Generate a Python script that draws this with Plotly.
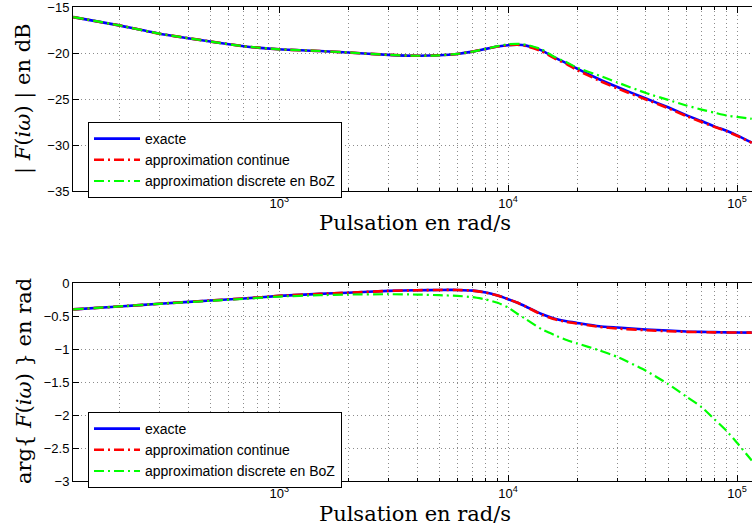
import plotly.graph_objects as go
import numpy as np

# ---------------- data ----------------
omega = [126, 200, 300, 500, 700, 1000, 1500, 2000, 3000, 4000, 5000, 6000, 7000, 8000, 9000,
         10000, 11000, 12000, 14000, 16000, 18000, 20000, 25000, 30000, 40000, 50000, 60000, 70000,
         80000, 90000, 100000, 116000]

mag_exacte = [-16.1, -17.0, -17.9, -18.75, -19.27, -19.6, -19.78, -19.95, -20.2, -20.3, -20.25,
              -20.1, -19.85, -19.55, -19.3, -19.15, -19.1, -19.2, -19.72, -20.5, -21.1, -21.7, -22.85,
              -23.7, -24.95, -25.9, -26.75, -27.4, -28.0, -28.45, -28.95, -29.75]
mag_continue = [-16.1, -17.0, -17.9, -18.75, -19.27, -19.6, -19.78, -19.95, -20.2, -20.3, -20.25,
                -20.1, -19.85, -19.55, -19.3, -19.15, -19.1, -19.25, -19.8, -20.6, -21.2, -21.85, -23.0,
                -23.85, -25.05, -26.0, -26.85, -27.5, -28.05, -28.5, -29.0, -29.75]
mag_boz = [-16.1, -17.0, -17.9, -18.75, -19.27, -19.6, -19.78, -19.95, -20.2, -20.3, -20.25,
           -20.1, -19.85, -19.55, -19.25, -19.05, -19.0, -19.1, -19.6, -20.45, -21.0, -21.6, -22.45,
           -23.2, -24.35, -25.1, -25.7, -26.15, -26.5, -26.8, -26.95, -27.15]

ph_exacte = [-0.40, -0.355, -0.315, -0.265, -0.235, -0.195, -0.165, -0.147, -0.12, -0.11, -0.105,
             -0.105, -0.115, -0.145, -0.19, -0.245, -0.30, -0.36, -0.47, -0.54, -0.58, -0.605, -0.655,
             -0.675, -0.705, -0.72, -0.735, -0.74, -0.745, -0.748, -0.75, -0.752]
ph_continue = [-0.40, -0.355, -0.315, -0.265, -0.235, -0.195, -0.165, -0.147, -0.12, -0.11, -0.105,
               -0.105, -0.115, -0.145, -0.19, -0.245, -0.30, -0.36, -0.48, -0.55, -0.59, -0.615, -0.665,
               -0.69, -0.715, -0.73, -0.74, -0.745, -0.748, -0.75, -0.75, -0.752]
ph_boz = [-0.40, -0.355, -0.315, -0.27, -0.24, -0.205, -0.185, -0.175, -0.17, -0.175, -0.185,
          -0.195, -0.215, -0.25, -0.30, -0.37, -0.47, -0.55, -0.70, -0.79, -0.865, -0.915, -1.02,
          -1.12, -1.33, -1.53, -1.72, -1.88, -2.07, -2.24, -2.42, -2.69]

series_names = ["exacte", "approximation continue", "approximation discrete en BoZ"]
mag_ticks = [-35, -30, -25, -20, -15]
ph_ticks = [-3, -2.5, -2, -1.5, -1, -0.5, 0]
x_major = [1e3, 1e4, 1e5]
x_major_text = ["10<sup>3</sup>", "10<sup>4</sup>", "10<sup>5</sup>"]

# ---------------- figure ----------------
W, H = 752, 529
ml, mr, mt, mb = 73, 0, 7, 48
ph_ = H - mt - mb
pw_ = W - ml - mr
top_dom = [(481 - 191) / ph_, 1.0]
bot_dom = [0.0, (481 - 283) / ph_]
xrange = [np.log10(2 * np.pi * 20), 5 + 15 / 229]

minor_vals = [m * 10 ** e for e in range(2, 6) for m in range(2, 10)]

colors = ["#0000ff", "#ff0000", "#00ff00"]
dashes = ["solid", "10px,4px,2px,4px", "10px,4px,2px,4px"]
widths = [2.6, 2.6, 2.2]

fig = go.Figure()
for i, mag in enumerate([mag_exacte, mag_continue, mag_boz]):
    fig.add_trace(go.Scatter(x=omega, y=mag, mode="lines", name=series_names[i],
                             line=dict(color=colors[i], width=widths[i], dash=dashes[i],
                                       shape="spline", smoothing=0.5),
                             xaxis="x", yaxis="y", legend="legend"))
for i, ph in enumerate([ph_exacte, ph_continue, ph_boz]):
    fig.add_trace(go.Scatter(x=omega, y=ph, mode="lines", name=series_names[i],
                             line=dict(color=colors[i], width=widths[i], dash=dashes[i],
                                       shape="spline", smoothing=0.5),
                             xaxis="x2", yaxis="y2", legend="legend2"))

tickfont = dict(family="Liberation Sans, Arial, sans-serif", size=13, color="black")
gridc = "#8c8c8c"


def xax(anchor):
    return dict(type="log", range=xrange, anchor=anchor, domain=[0, 1],
                tickmode="array", tickvals=x_major, ticktext=x_major_text,
                ticks="inside", ticklen=6, tickcolor="black",
                showline=True, linecolor="black", linewidth=1, mirror="ticks",
                showgrid=True, gridcolor=gridc, griddash="1px,3px", gridwidth=1,
                minor=dict(tickmode="array", tickvals=minor_vals, ticks="inside", ticklen=3,
                           tickcolor="black", showgrid=True, gridcolor=gridc,
                           griddash="1px,3px", gridwidth=1),
                tickfont=tickfont, zeroline=False, ticklabeloverflow="allow")


def yax(anchor, dom, rng, tv):
    return dict(domain=dom, anchor=anchor, range=rng, tickmode="array", tickvals=tv,
                ticks="inside", ticklen=6, tickcolor="black",
                showline=True, linecolor="black", linewidth=1, mirror=False,
                showgrid=True, gridcolor=gridc, griddash="1px,3px", gridwidth=1,
                tickfont=tickfont, zeroline=False, ticklabeloverflow="allow")


legend_style = dict(bgcolor="white", bordercolor="black", borderwidth=1,
                    font=dict(family="Liberation Sans, Arial, sans-serif", size=14, color="black"),
                    xanchor="left", yanchor="top", tracegroupgap=0, itemwidth=46)

serif = dict(family="DejaVu Serif, Liberation Serif, serif", size=21, color="black")

fig.update_layout(
    width=W, height=H, margin=dict(l=ml, r=mr, t=mt, b=mb),
    paper_bgcolor="white", plot_bgcolor="white",
    xaxis=xax("y"), yaxis=yax("x", top_dom, [-35, -15], mag_ticks),
    xaxis2=xax("y2"), yaxis2=yax("x2", bot_dom, [-3, 0], ph_ticks),
    legend=dict(x=(88 - ml) / pw_, y=(481 - 122) / ph_, **legend_style),
    legend2=dict(x=(88 - ml) / pw_, y=(481 - 412) / ph_, **legend_style),
    showlegend=True,
    annotations=[
        dict(text="| <i>F</i>(<i>iω</i>) | en dB", xref="paper", yref="paper",
             x=(24 - ml) / pw_, y=(481 - 99) / ph_, textangle=-90,
             showarrow=False, xanchor="center", yanchor="middle", font=serif),
        dict(text="arg{ <i>F</i>(<i>iω</i>) } en rad", xref="paper", yref="paper",
             x=(24 - ml) / pw_, y=(481 - 381) / ph_, textangle=-90,
             showarrow=False, xanchor="center", yanchor="middle", font=serif),
        dict(text="Pulsation en rad/s", xref="paper", yref="paper",
             x=(415 - ml) / pw_, y=(481 - 223) / ph_,
             showarrow=False, xanchor="center", yanchor="middle", font=serif),
        dict(text="Pulsation en rad/s", xref="paper", yref="paper",
             x=(415 - ml) / pw_, y=(481 - 514) / ph_,
             showarrow=False, xanchor="center", yanchor="middle", font=serif),
    ],
)

fig.write_html("out.html")
